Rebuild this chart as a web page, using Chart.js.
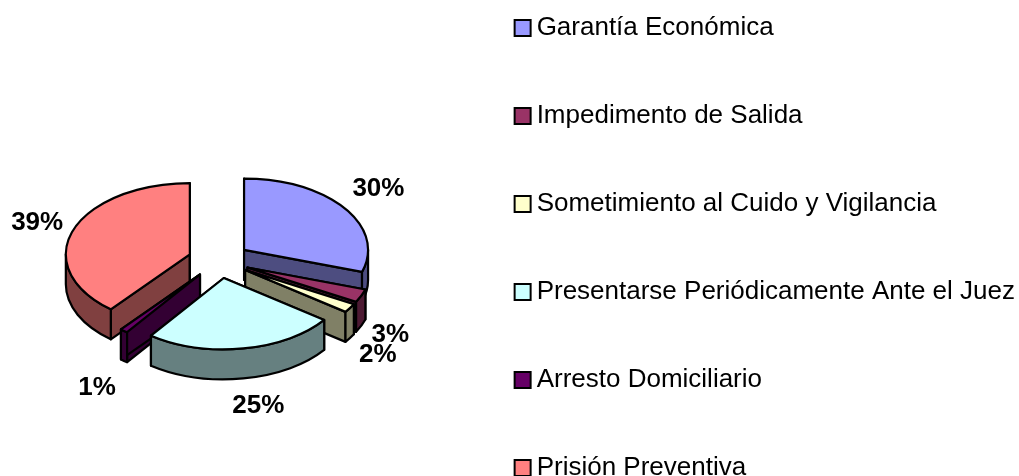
<!DOCTYPE html>
<html>
<head>
<meta charset="utf-8">
<style>
    html, body { margin: 0; padding: 0; background: #fff; overflow: hidden; }
    #wrap { width: 1019px; height: 476px; overflow: hidden; position: relative; }
    #chart { position: absolute; left: 0; top: -52px; }
</style>
</head>
<body>
<div id="wrap"><canvas id="chart" width="1025" height="600"></canvas></div>
<script src="https://cdn.jsdelivr.net/npm/chart.js@4"></script>
<script>
// ------------------------------
// DATA
// ------------------------------

const categories = [
    "Garantía Económica",
    "Impedimento de Salida",
    "Sometimiento al Cuido y Vigilancia",
    "Presentarse Periódicamente Ante el Juez",
    "Arresto Domiciliario",
    "Prisión Preventiva"
];
const percentages = [30, 3, 2, 25, 1, 39];

const topColors = ["#9999FF", "#993366", "#FFFFCC", "#CCFFFF", "#660066", "#FF8080"];
const wallColors = ["#4D4D80", "#4D1A33", "#808066", "#668080", "#330033", "#804040"];

// label shift from the middle of each slice's rim
const labelShiftX = [34, 29, 28, 15, -27, -36];
const labelShiftY = [-19, 39, 47, 57, 57, -7];

// ------------------------------
// FAKE 3D PIE
// ------------------------------

const CANVAS_TOP = 52;
const PIE_X = 219;
const PIE_Y = 260.4 + CANVAS_TOP;
const SQUASH = 0.575;
const DEPTH = 30;
const EXPLODE = 31;
const LINE = 2.2;

function sliceGeometry(arc) {
    const mid = (arc.startAngle + arc.endAngle) / 2;
    return {
        x: PIE_X + EXPLODE * Math.cos(mid),
        y: PIE_Y + EXPLODE * SQUASH * Math.sin(mid),
        r: arc.outerRadius,
        ry: arc.outerRadius * SQUASH,
        a0: arc.startAngle,
        a1: arc.endAngle,
        mid: mid
    };
}

function paint(ctx, fill) {
    ctx.fillStyle = fill;
    ctx.fill();
    ctx.strokeStyle = "#000";
    ctx.lineWidth = LINE;
    ctx.lineJoin = "round";
    ctx.stroke();
}

function radialWall(ctx, g, angle, fill) {
    const ex = g.x + g.r * Math.cos(angle);
    const ey = g.y + g.ry * Math.sin(angle);
    ctx.beginPath();
    ctx.moveTo(g.x, g.y);
    ctx.lineTo(ex, ey);
    ctx.lineTo(ex, ey + DEPTH);
    ctx.lineTo(g.x, g.y + DEPTH);
    ctx.closePath();
    paint(ctx, fill);
}

function outerWall(ctx, g, fill) {
    // only the part of the rim facing the viewer, canvas angles 0..PI
    const from = Math.max(g.a0, 0);
    const to = Math.min(g.a1, Math.PI);
    if (to <= from) return;
    ctx.beginPath();
    ctx.ellipse(g.x, g.y, g.r, g.ry, 0, from, to);
    ctx.ellipse(g.x, g.y + DEPTH, g.r, g.ry, 0, to, from, true);
    ctx.closePath();
    paint(ctx, fill);
}

const pie3d = {
    id: "pie3d",
    beforeDatasetDraw(chart, args) {
        const ctx = chart.ctx;
        const arcs = args.meta.data;
        const order = arcs.map((_, i) => i);
        order.sort((a, b) => sliceGeometry(arcs[a]).y - sliceGeometry(arcs[b]).y);

        order.forEach(i => {
            const arc = arcs[i];
            const g = sliceGeometry(arc);

            radialWall(ctx, g, g.a0, wallColors[i]);
            radialWall(ctx, g, g.a1, wallColors[i]);
            outerWall(ctx, g, wallColors[i]);

            // top face is the library's own arc, flattened and pulled out
            ctx.save();
            ctx.translate(g.x, g.y);
            ctx.scale(1, SQUASH);
            ctx.translate(-arc.x, -arc.y);
            arc.draw(ctx);
            ctx.restore();

            ctx.beginPath();
            ctx.moveTo(g.x, g.y);
            ctx.ellipse(g.x, g.y, g.r, g.ry, 0, g.a0, g.a1);
            ctx.closePath();
            ctx.strokeStyle = "#000";
            ctx.lineWidth = LINE;
            ctx.lineJoin = "round";
            ctx.stroke();
        });
        return false;
    },
    afterDatasetsDraw(chart) {
        const ctx = chart.ctx;
        const arcs = chart.getDatasetMeta(0).data;
        ctx.save();
        ctx.font = "bold 26px 'Liberation Sans', Arial, sans-serif";
        ctx.fillStyle = "#000";
        ctx.textAlign = "center";
        ctx.textBaseline = "middle";
        arcs.forEach((arc, i) => {
            const g = sliceGeometry(arc);
            const x = g.x + g.r * Math.cos(g.mid) + labelShiftX[i];
            const y = g.y + g.ry * Math.sin(g.mid) + labelShiftY[i];
            ctx.fillText(percentages[i] + "%", x, y);
        });
        ctx.restore();
    }
};

new Chart(document.getElementById("chart").getContext("2d"), {
    type: "pie",
    data: {
        labels: categories,
        datasets: [{
            data: percentages,
            backgroundColor: topColors,
            borderWidth: 0
        }]
    },
    options: {
        responsive: false,
        animation: false,
        events: [],
        radius: 124,
        plugins: {
            tooltip: { enabled: false },
            legend: {
                position: "right",
                maxWidth: 700,
                labels: {
                    color: "#000",
                    usePointStyle: true,
                    pointStyle: "rect",
                    boxWidth: 2,
                    boxHeight: 16,
                    padding: 62,
                    font: { family: "'Liberation Sans', Arial, sans-serif", size: 26 },
                    generateLabels(chart) {
                        return Chart.overrides.pie.plugins.legend.labels.generateLabels(chart).map(item => {
                            item.strokeStyle = "#000";
                            item.lineWidth = 2;
                            return item;
                        });
                    }
                }
            }
        }
    },
    plugins: [pie3d]
});
</script>
</body>
</html>
